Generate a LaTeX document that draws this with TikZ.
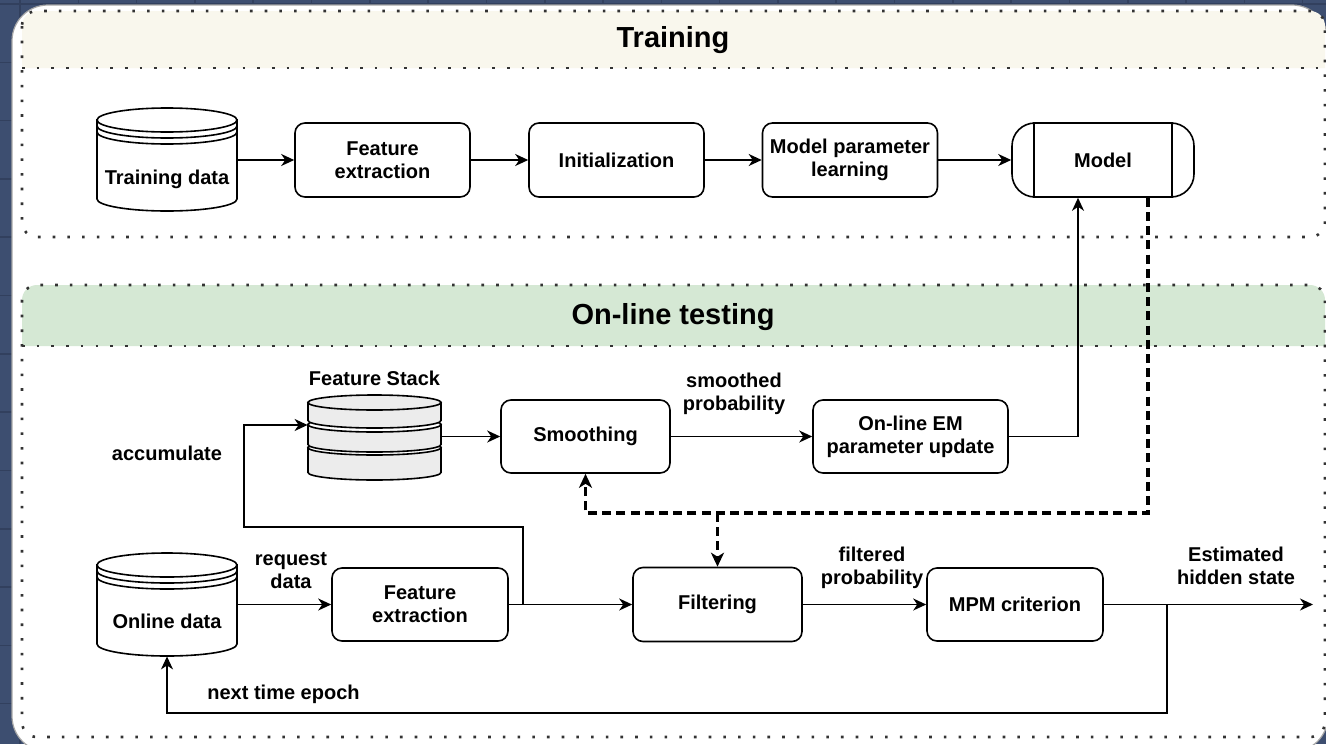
\documentclass[tikz,border=0pt]{standalone}
\usepackage{fontspec}
\setmainfont{Liberation Sans}
\usetikzlibrary{arrows.meta,calc,positioning}

\definecolor{bgblue}{RGB}{61,78,112}
\definecolor{gridblue}{RGB}{50,64,94}
\definecolor{trainhead}{HTML}{F9F7ED}
\definecolor{testhead}{HTML}{D5E8D4}
\definecolor{stackgray}{RGB}{236,236,236}

% datastore drum: centre x, top y, bottom y
\newcommand{\datastore}[3]{%
  \filldraw[fill=white, line width=0.8pt] (#1-70,#2+12) -- (#1-70,#3-12)
    arc[start angle=180, end angle=0, x radius=70, y radius=12] -- (#1+70,#2+12) -- cycle;
  \filldraw[fill=white, line width=0.8pt] (#1,#2+12) ellipse[x radius=70, y radius=12];
  \foreach \off in {6,12}
    \draw[line width=0.8pt] (#1-70,#2+12+\off) arc[start angle=180, end angle=0, x radius=70, y radius=12];
}
% one disk of the stack: centre x, top centre y, bottom centre y, top colour
\newcommand{\stackdisk}[4]{%
  \filldraw[fill=stackgray, line width=0.8pt] (#1-66.5,#2) -- (#1-66.5,#3)
    arc[start angle=180, end angle=0, x radius=66.5, y radius=7.5] -- (#1+66.5,#2) -- cycle;
  \filldraw[fill=#4, line width=0.8pt] (#1,#2) ellipse[x radius=66.5, y radius=7.5];
}

\begin{document}
\begin{tikzpicture}[x=0.5pt, y=-0.5pt,
  block/.style={draw, rounded corners=5pt, line width=0.8pt, minimum width=87.5pt, minimum height=37pt, align=center, inner sep=2pt, font=\bfseries\fontsize{10}{11.5}\selectfont},
  lbl/.style={align=center, inner sep=0pt, font=\bfseries\fontsize{10}{11.5}\selectfont},
  title/.style={font=\bfseries\fontsize{14.5}{16}\selectfont},
  group/.style={draw=black!80, line width=1.3pt, dash pattern=on 1.3pt off 6.05pt, rounded corners=7.5pt},
  arr/.style={-{Stealth[length=6.5pt, width=6pt, inset=2pt]}, line width=0.8pt},
  dasharr/.style={-{Stealth[length=7pt, width=6.5pt, inset=2pt]}, line width=1.6pt, dash pattern=on 4.5pt off 2.6pt},
  shell/.style={inner sep=0pt, minimum width=70pt, minimum height=51.5pt}
]
  \useasboundingbox (0,0) rectangle (1326,744);
  \clip (0,0) rectangle (1326,744);

  % background and card
  \fill[bgblue] (0,0) rectangle (1326,744);
  \foreach \gx in {20,78.3,...,1326} \draw[gridblue, line width=0.8pt] (\gx,0) -- (\gx,744);
  \foreach \gy in {4,62.3,...,744} \draw[gridblue, line width=0.8pt] (0,\gy) -- (1326,\gy);
  \filldraw[fill=white, draw=black!35, line width=0.6pt, rounded corners=18pt] (12,5) rectangle (1328,752);

  % groups
  \fill[trainhead] (22,68) [rounded corners=7.5pt] -- (22,11) -- (1325,11) [sharp corners] -- (1325,68) -- cycle;
  \draw[group] (22,11) rectangle (1325,237);
  \draw[group, rounded corners=0pt] (22,68) -- (1325,68);
  \node[title] (trainTitle) at (673,40) {Training};

  \fill[testhead] (22,346) [rounded corners=7.5pt] -- (22,285) -- (1325,285) [sharp corners] -- (1325,346) -- cycle;
  \draw[group] (22,285) rectangle (1325,737);
  \draw[group, rounded corners=0pt] (22,346) -- (1325,346);
  \node[title] (testTitle) at (673,317) {On-line testing};

  % training row
  \datastore{167}{108}{211}
  \node[shell] (trainData) at (167,160) {};
  \node[lbl] (trainDataLbl) at ($(trainData.center)+(0,19)$) {Training data};
  \node[block] (trainFeat) at (382.5,160) {Feature\\extraction};
  \node[block] (init) at (616.5,160) {Initialization};
  \node[block] (paramLearn) at (850,160) {Model parameter\\learning};
  \node[block, minimum width=91pt, rounded corners=11.5pt] (model) at (1103,160) {Model};
  \draw[line width=0.8pt] ($(model.north west)+(23,0)$) -- ($(model.south west)+(23,0)$);
  \draw[line width=0.8pt] ($(model.north east)+(-23,0)$) -- ($(model.south east)+(-23,0)$);

  \draw[arr] (trainData.east) -- (trainFeat.west);
  \draw[arr] (trainFeat) -- (init);
  \draw[arr] (init) -- (paramLearn);
  \draw[arr] (paramLearn) -- (model);

  % feature stack
  \stackdisk{374.5}{447.5}{472.5}{white}
  \stackdisk{374.5}{424.5}{444.5}{white}
  \stackdisk{374.5}{402.5}{420.5}{stackgray}
  \node[shell, minimum width=66.5pt, minimum height=43pt] (stack) at (374.5,436.5) {};
  \node[lbl] (stackLbl) at (374.5,378) {Feature Stack};

  % testing nodes
  \node[block, minimum width=84.5pt, minimum height=36.5pt] (smooth) at (585.5,436.5) {Smoothing};
  \node[block, minimum width=97.5pt, minimum height=36.5pt] (emUpdate) at (910.5,436.5) {On-line EM\\parameter update};
  \datastore{167}{553}{656}
  \node[shell] (onlineData) at (167,604.5) {};
  \node[lbl] (onlineDataLbl) at ($(onlineData.center)+(0,17)$) {Online data};
  \node[block, minimum width=88pt, minimum height=36.5pt] (onlineFeat) at (420,604.5) {Feature\\extraction};
  \node[block, minimum width=84.5pt] (filter) at (717.5,604.5) {Filtering};
  \node[block, minimum width=88pt, minimum height=36.5pt] (mpm) at (1015,604.5) {MPM criterion};

  % labels
  \node[lbl] (accLbl) at (167,453) {accumulate};
  \node[lbl] (reqLbl) at (291,571) {request\\data};
  \node[lbl] (smoothLbl) at (734,394) {smoothed\\probability};
  \node[lbl] (filtLbl) at (872,568) {filtered\\probability};
  \node[lbl] (estLbl) at (1236,566) {Estimated\\hidden state};
  \node[lbl, anchor=west] (epochLbl) at (207,694) {next time epoch};

  % connectors
  \coordinate (split) at (523,604.5);
  \coordinate (stackIn) at ($(stack.west)+(0,-11.5)$);
  \coordinate (fbSplit) at (1167,604.5);
  \coordinate (outEnd) at (1313,604.5);
  \coordinate (loopY) at (0,713);
  \coordinate (dashY) at (0,513);
  \coordinate (mIn) at ($(model.south)+(-25,0)$);
  \coordinate (mOut) at ($(model.south)+(45,0)$);

  \draw[arr] (onlineData.east) -- (onlineFeat.west);
  \draw[arr] (onlineFeat) -- (filter);
  \draw[arr] (split) |- (244,527) |- (stackIn);
  \draw[arr] (stack.east) -- (smooth.west);
  \draw[arr] (smooth) -- (emUpdate);
  \draw[arr] (emUpdate.east) -| (mIn);
  \draw[arr] (filter) -- (mpm);
  \draw[arr] (mpm.east) -- (outEnd);
  \draw[arr] (fbSplit) |- (loopY -| onlineData.south) -- (onlineData.south);
  \draw[dasharr] (mOut) |- (dashY -| smooth.south) -- (smooth.south);
  \draw[dasharr] (dashY -| filter.north) -- (filter.north);
\end{tikzpicture}
\end{document}
